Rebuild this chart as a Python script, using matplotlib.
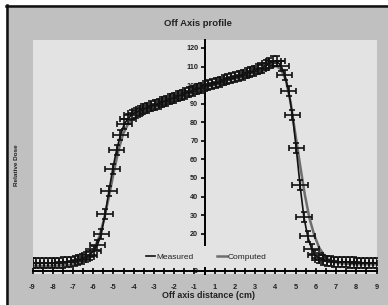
import numpy as np
import matplotlib.pyplot as plt
from matplotlib.lines import Line2D
from matplotlib.patches import Rectangle

plt.rcParams['font.family'] = ['Liberation Sans', 'DejaVu Sans']

# measured profile (cm, relative dose %)
meas_x = [-9.0, -8.8, -8.6, -8.4, -8.2, -8.0, -7.8, -7.6, -7.4, -7.2,
          -7.0, -6.8, -6.6, -6.4, -6.2, -6.0, -5.8, -5.6, -5.4, -5.2,
          -5.0, -4.8, -4.6, -4.4, -4.2, -4.0, -3.8, -3.6, -3.4, -3.2,
          -3.0, -2.8, -2.6, -2.4, -2.2, -2.0, -1.8, -1.6, -1.4, -1.2,
          -1.0, -0.8, -0.6, -0.4, -0.2, 0.0, 0.2, 0.4, 0.6, 0.8,
          1.0, 1.2, 1.4, 1.6, 1.8, 2.0, 2.2, 2.4, 2.6, 2.8,
          3.0, 3.2, 3.4, 3.6, 3.8, 4.0, 4.2, 4.4, 4.6, 4.8,
          5.0, 5.2, 5.4, 5.6, 5.8, 6.0, 6.2, 6.4, 6.6, 6.8,
          7.0, 7.2, 7.4, 7.6, 7.8, 8.0, 8.2, 8.4, 8.6, 8.8, 9.0]
meas_y = [4.0, 4.0, 4.1, 4.1, 4.2, 4.2, 4.3, 4.4, 4.5, 4.7,
          5.0, 5.3, 5.8, 6.5, 7.5, 8.8, 10.8, 14.0, 20.0, 30.5,
          43.0, 55.0, 65.0, 73.0, 79.0, 82.0, 84.0, 85.2, 86.2, 87.0,
          87.8, 88.6, 89.3, 90.1, 90.9, 91.7, 92.4, 93.2, 94.0, 94.8,
          95.5, 96.3, 97.1, 97.8, 98.6, 99.4, 100.0, 100.7, 101.3, 101.9,
          102.6, 103.2, 103.8, 104.5, 105.1, 105.7, 106.4, 107.1, 107.8, 108.5,
          109.2, 110.6, 112.0, 113.0, 112.8, 110.5, 105.5, 97.0, 84.0, 66.0,
          46.0, 29.0, 18.5, 12.0, 8.5, 6.8, 6.0, 5.5, 5.2, 5.0,
          4.8, 4.7, 4.6, 4.5, 4.5, 4.4, 4.4, 4.3, 4.3, 4.3, 4.2]
dose_err = 2.7
dist_err = 0.4

# computed profile
comp_x = [-9.0, -8.0, -7.5, -7.0, -6.75, -6.5, -6.25, -6.0, -5.75, -5.5,
          -5.25, -5.0, -4.75, -4.5, -4.25, -4.0, -3.75, -3.5, -3.0, -2.0,
          -1.0, 0.0, 1.0, 2.0, 3.0, 3.5, 3.75, 4.0, 4.25, 4.5,
          4.75, 5.0, 5.25, 5.5, 5.75, 6.0, 6.25, 6.5, 6.75, 7.0,
          7.5, 8.0, 9.0]
comp_y = [2.5, 2.7, 2.9, 3.3, 3.8, 4.6, 6.0, 8.5, 12.5, 18.5,
          28.0, 40.0, 53.0, 65.0, 74.0, 79.0, 81.8, 83.3, 85.5, 89.5,
          93.3, 97.0, 100.2, 103.4, 106.8, 109.5, 110.3, 108.5, 103.0, 91.0,
          74.0, 57.0, 41.0, 28.0, 19.0, 12.5, 8.5, 6.2, 5.0, 4.3,
          3.8, 3.6, 3.5]

# 10 sits behind the legend in the original, so it is not labelled
y_ticks = [0, 20, 30, 40, 50, 60, 70, 80, 90, 100, 110, 120]
x_labels = ['-9', '-8', '-7', '-6', '-5', '-4', '-3', '-2', '-1',
            '1', '2', '3', '4', '5', '6', '7', '8', '9']

W, H = 388, 305
fig = plt.figure(figsize=(W / 100, H / 100), dpi=100, facecolor='white')

# outer chart frame: grey with dark edge on left/top
fig.patches.append(Rectangle((6 / W, 0), 1, 1 - 5 / H, transform=fig.transFigure,
                             facecolor='#c0c0c0', edgecolor='none', zorder=-10))
fig.lines.append(Line2D([7 / W, 7 / W], [0, 1 - 5 / H], transform=fig.transFigure,
                        color='#111111', lw=1.8, zorder=-5))
fig.lines.append(Line2D([6 / W, 1], [1 - 6.2 / H, 1 - 6.2 / H], transform=fig.transFigure,
                        color='#111111', lw=1.8, zorder=-5))

ax = fig.add_axes([32.5 / W, 31 / H, 344 / W, 234 / H])
ax.set_facecolor('#e3e3e3')

ax.plot(comp_x, comp_y, color='#6e6e6e', lw=1.8, label='Computed', zorder=3)
ax.errorbar(meas_x, meas_y, yerr=dose_err, xerr=dist_err, fmt='none',
            ecolor='#111111', elinewidth=1.2, capsize=2.4, capthick=1.2, zorder=4)
ax.plot(meas_x, meas_y, color='#111111', lw=1.2, label='Measured', zorder=4)

ax.set_xlim(-9, 9)
ax.set_ylim(-1.7, 124.3)

for s in ['top', 'right']:
    ax.spines[s].set_visible(False)
ax.spines['left'].set_position(('data', 0))
ax.spines['bottom'].set_position(('data', 0))
ax.spines['left'].set_linewidth(1.4)
ax.spines['bottom'].set_linewidth(1.4)

ax.set_yticks(y_ticks)
ax.set_yticklabels([str(v) for v in y_ticks])
ax.tick_params(axis='y', direction='out', length=3, width=1.2, pad=1.5,
               labelsize=5.2, labelcolor='#222222')

pos = np.linspace(-9, 9, len(x_labels))
ax.set_xticks(pos)
ax.set_xticklabels(x_labels)
ax.set_xticks((pos[:-1] + pos[1:]) / 2, minor=True)
ax.tick_params(axis='x', which='both', direction='inout', length=5, width=1.2,
               pad=7, labelsize=5.3, labelcolor='#222222')
for lab in ax.get_xticklabels() + ax.get_yticklabels():
    lab.set_fontweight('bold')

leg = ax.legend(handles=[ax.lines[-1], ax.lines[0]], labels=['Measured', 'Computed'],
                loc='center', bbox_to_anchor=(0.505, 0.074), ncol=2, fontsize=6.0,
                frameon=True, facecolor='#e3e3e3', edgecolor='none', framealpha=1,
                handlelength=1.1, handletextpad=0.15, columnspacing=2.9,
                borderpad=0.8, fancybox=False)
for t in leg.get_texts():
    t.set_color('#222222')
leg.set_zorder(6)

fig.text(198 / W, 1 - 24 / H, 'Off Axis profile', ha='center', va='center',
         fontsize=6.8, fontweight='bold', color='#222222')
fig.text(208 / W, 1 - 296 / H, 'Off axis distance (cm)', ha='center', va='center',
         fontsize=6.4, fontweight='bold', color='#222222')
fig.text(17 / W, 1 - 165 / H, 'Relative Dose', ha='center', va='center',
         rotation=90, fontsize=4.6, fontweight='bold', color='#222222')

fig.savefig('out.png', dpi=100, facecolor=fig.get_facecolor())
